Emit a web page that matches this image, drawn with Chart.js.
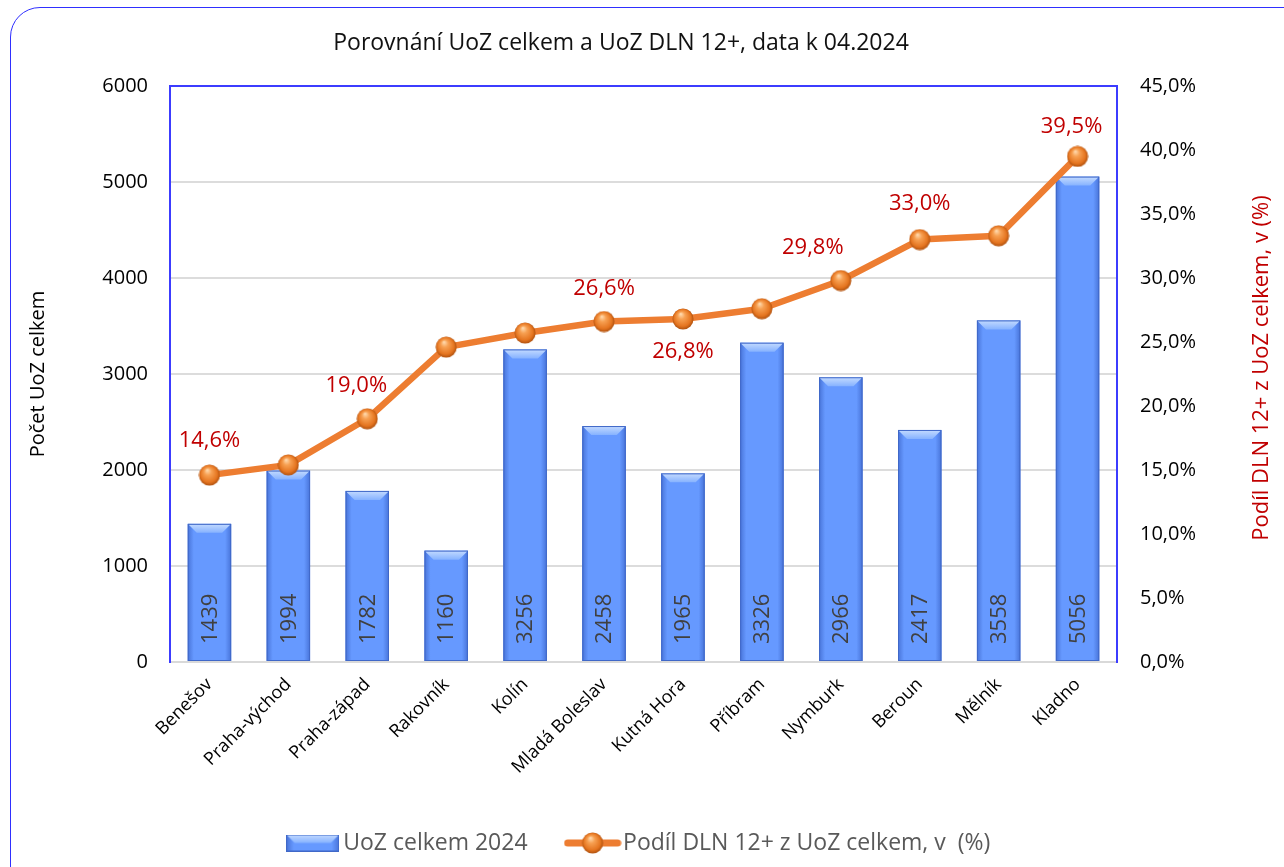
<!DOCTYPE html>
<html>
<head>
<meta charset="utf-8">
<script src="https://cdn.jsdelivr.net/npm/chart.js@4.4.1/dist/chart.umd.min.js"></script>
<style>
  html, body { margin: 0; padding: 0; background: #fff; overflow: hidden; }
  .wrap { position: relative; width: 1284px; height: 867px; }
  .frame {
    position: absolute; left: 10px; top: 7px; width: 1330px; height: 900px;
    border: 1.5px solid #2f2fff; border-radius: 30px; box-sizing: border-box;
    pointer-events: none;
  }
  canvas { position: absolute; left: 0; top: 0; }
</style>
</head>
<body>
<div class="wrap">
  <div class="frame"></div>
  <canvas id="myChart" width="1284" height="867"></canvas>
</div>
<script>
// okresy Středočeského kraje
const districts = [
  "Benešov", "Praha-východ", "Praha-západ", "Rakovník", "Kolín", "Mladá Boleslav",
  "Kutná Hora", "Příbram", "Nymburk", "Beroun", "Mělník", "Kladno"
];
// UoZ celkem 2024
const uozTotal = [1439, 1994, 1782, 1160, 3256, 2458, 1965, 3326, 2966, 2417, 3558, 5056];
// podíl DLN 12+ z UoZ celkem (%)
const dlnShare = [14.6, 15.4, 19.0, 24.6, 25.7, 26.6, 26.8, 27.6, 29.8, 33.0, 33.3, 39.5];
const leftTicks = [0, 1000, 2000, 3000, 4000, 5000, 6000];
const rightTicks = [0, 5, 10, 15, 20, 25, 30, 35, 40, 45];

const chartTitle = "Porovnání UoZ celkem a UoZ DLN 12+, data k 04.2024";
const barLabel = "UoZ celkem 2024";
const lineLabel = "Podíl DLN 12+ z UoZ celkem, v  (%)";
const leftTitle = "Počet UoZ celkem";
const rightTitle = "Podíl DLN 12+ z UoZ celkem, v (%)";

const FONT = '"Open Sans", "Noto Sans", sans-serif';
Chart.defaults.font.family = FONT;

const fmtPct = (v) => v.toFixed(1).replace(".", ",") + "%";

// orange sphere used as point marker
function makeSphere(d) {
  const c = document.createElement("canvas");
  c.width = c.height = d;
  const g = c.getContext("2d");
  const r = d / 2;
  const grad = g.createRadialGradient(r * 0.8, r * 0.55, r * 0.05, r, r, r);
  grad.addColorStop(0, "#ffd6a8");
  grad.addColorStop(0.3, "#f7a052");
  grad.addColorStop(0.75, "#e57520");
  grad.addColorStop(1, "#a84c0c");
  g.fillStyle = grad;
  g.beginPath();
  g.arc(r, r, r - 0.5, 0, Math.PI * 2);
  g.fill();
  return c;
}

function drawBevelBar(g, left, top, right, bottom) {
  const w = right - left;
  g.fillStyle = "#6699ff";
  g.fillRect(left, top, w, bottom - top);
  const side = g.createLinearGradient(left, 0, right, 0);
  side.addColorStop(0, "rgba(35,70,170,0.45)");
  side.addColorStop(0.14, "rgba(35,70,170,0)");
  side.addColorStop(0.86, "rgba(35,70,170,0)");
  side.addColorStop(1, "rgba(35,70,170,0.45)");
  g.fillStyle = side;
  g.fillRect(left, top, w, bottom - top);
  const b = Math.min(9, (bottom - top) / 2);
  const bev = g.createLinearGradient(0, top, 0, top + b);
  bev.addColorStop(0, "#c4dbff");
  bev.addColorStop(1, "#86b2ff");
  g.fillStyle = bev;
  g.beginPath();
  g.moveTo(left, top);
  g.lineTo(right, top);
  g.lineTo(right - b, top + b);
  g.lineTo(left + b, top + b);
  g.closePath();
  g.fill();
  g.strokeStyle = "#4068c8";
  g.lineWidth = 1;
  g.strokeRect(left + 0.5, top + 0.5, w - 1, bottom - top - 1);
}

const sphere = makeSphere(22);

const barIcon = (() => {
  const c = document.createElement("canvas");
  c.width = 53; c.height = 17;
  drawBevelBar(c.getContext("2d"), 0, 0, 53, 17);
  return c;
})();

const lineIcon = (() => {
  const c = document.createElement("canvas");
  c.width = 58; c.height = 24;
  const g = c.getContext("2d");
  g.strokeStyle = "#ed7d31";
  g.lineWidth = 7;
  g.lineCap = "round";
  g.beginPath(); g.moveTo(4, 12); g.lineTo(54, 12); g.stroke();
  g.drawImage(sphere, 18, 1);
  return c;
})();

const chartDecor = {
  id: "chartDecor",
  beforeDatasetsDraw(chart) {
    const { ctx, chartArea } = chart;
    ctx.save();
    ctx.strokeStyle = "#3c3cff";
    ctx.lineWidth = 2;
    ctx.beginPath();
    ctx.moveTo(chartArea.left, chartArea.top);
    ctx.lineTo(chartArea.right, chartArea.top);
    ctx.stroke();
    ctx.restore();
  },
  afterDatasetDraw(chart, args) {
    if (args.index !== 0) return;
    const { ctx } = chart;
    ctx.save();
    args.meta.data.forEach((bar, i) => {
      const { x, y, width, base } = bar.getProps(["x", "y", "width", "base"], true);
      drawBevelBar(ctx, x - width / 2, y, x + width / 2, base);
      ctx.save();
      ctx.translate(x, base - 17);
      ctx.rotate(-Math.PI / 2);
      ctx.font = "22px " + FONT;
      ctx.fillStyle = "#404040";
      ctx.textAlign = "left";
      ctx.textBaseline = "middle";
      ctx.fillText(String(uozTotal[i]), 0, 1);
      ctx.restore();
    });
    ctx.restore();
  },
  afterDatasetsDraw(chart, args, opts) {
    const { ctx } = chart;
    const meta = chart.getDatasetMeta(1);
    ctx.save();
    ctx.font = "22px " + FONT;
    ctx.fillStyle = "#c00000";
    ctx.textAlign = "center";
    ctx.textBaseline = "middle";
    Object.entries(opts.shown).forEach(([i, off]) => {
      const pt = meta.data[i];
      ctx.fillText(fmtPct(dlnShare[i]), pt.x + off[0], pt.y + off[1]);
    });
    ctx.restore();
  },
  afterDraw(chart) {
    const { ctx } = chart;
    ctx.save();
    ctx.font = "23px " + FONT;
    ctx.fillStyle = "#111";
    ctx.textAlign = "center";
    ctx.textBaseline = "middle";
    ctx.fillText(chartTitle, 621, 43);
    ctx.translate(1262, 368);
    ctx.rotate(-Math.PI / 2);
    ctx.font = "22px " + FONT;
    ctx.fillStyle = "#c00000";
    ctx.fillText(rightTitle, 0, 0);
    ctx.restore();
  }
};

new Chart(document.getElementById("myChart"), {
  type: "bar",
  data: {
    labels: districts,
    datasets: [
      {
        type: "bar",
        label: barLabel,
        data: uozTotal,
        yAxisID: "y",
        backgroundColor: "#6699ff",
        borderColor: "#4068c8",
        borderWidth: 1,
        barPercentage: 0.55,
        categoryPercentage: 1,
        order: 2,
      },
      {
        type: "line",
        label: lineLabel,
        data: dlnShare,
        yAxisID: "y1",
        borderColor: "#ed7d31",
        backgroundColor: "#ed7d31",
        borderWidth: 6.5,
        borderJoinStyle: "round",
        borderCapStyle: "round",
        pointStyle: sphere,
        pointRadius: 11,
        tension: 0,
        order: 1,
      },
    ],
  },
  options: {
    responsive: false,
    animation: false,
    layout: { padding: { top: 86, bottom: 2.5, left: 0, right: 0 } },
    scales: {
      x: {
        offset: true,
        grid: { display: false, drawTicks: false },
        border: { color: "#d9d9d9", width: 2 },
        ticks: {
          color: "#000",
          font: { size: 18 },
          minRotation: 45,
          maxRotation: 45,
          padding: 12,
        },
        afterFit: (s) => { s.height = 123.5; },
      },
      y: {
        position: "left",
        min: leftTicks[0],
        max: leftTicks[leftTicks.length - 1],
        afterBuildTicks: (s) => { s.ticks = leftTicks.map((v) => ({ value: v })); },
        ticks: {
          color: "#000",
          font: { size: 20 },
          padding: 22,
          callback: (v) => String(v),
        },
        grid: {
          drawTicks: false,
          lineWidth: 2,
          color: (c) => (c.tick && (c.tick.value === 0 || c.tick.value === 6000)) ? "rgba(0,0,0,0)" : "#dcdcdc",
        },
        border: { color: "#3c3cff", width: 2 },
        title: {
          display: true,
          text: leftTitle,
          color: "#000",
          font: { size: 20 },
          padding: { top: 26, bottom: 0 },
        },
        afterFit: (s) => { s.width = 170; },
      },
      y1: {
        position: "right",
        min: rightTicks[0],
        max: rightTicks[rightTicks.length - 1],
        afterBuildTicks: (s) => { s.ticks = rightTicks.map((v) => ({ value: v })); },
        ticks: {
          color: "#000",
          font: { size: 20 },
          padding: 23,
          callback: (v) => fmtPct(v),
        },
        grid: { drawOnChartArea: false, drawTicks: false },
        border: { color: "#3c3cff", width: 2 },
        afterFit: (s) => { s.width = 167; },
      },
    },
    plugins: {
      tooltip: { enabled: false },
      title: { display: false },
      legend: {
        position: "bottom",
        labels: {
          usePointStyle: true,
          pointStyleWidth: 38,
          padding: 46,
          color: "#595959",
          font: { size: 23 },
          generateLabels(chart) {
            const items = Chart.defaults.plugins.legend.labels.generateLabels(chart);
            items.sort((a, b) => a.datasetIndex - b.datasetIndex);
            items.forEach((it) => {
              it.pointStyle = it.datasetIndex === 0 ? barIcon : lineIcon;
              it.lineWidth = 0;
              it.fontColor = "#595959";
            });
            return items;
          },
        },
      },
      chartDecor: {
        // which point labels are shown, with offset [dx, dy] from the point
        shown: { 0: [0, -34], 2: [-11, -33], 5: [0, -33], 6: [0, 33], 8: [-28, -33], 9: [0, -36], 11: [-6, -30] },
      },
    },
  },
  plugins: [chartDecor],
});
</script>
</body>
</html>
